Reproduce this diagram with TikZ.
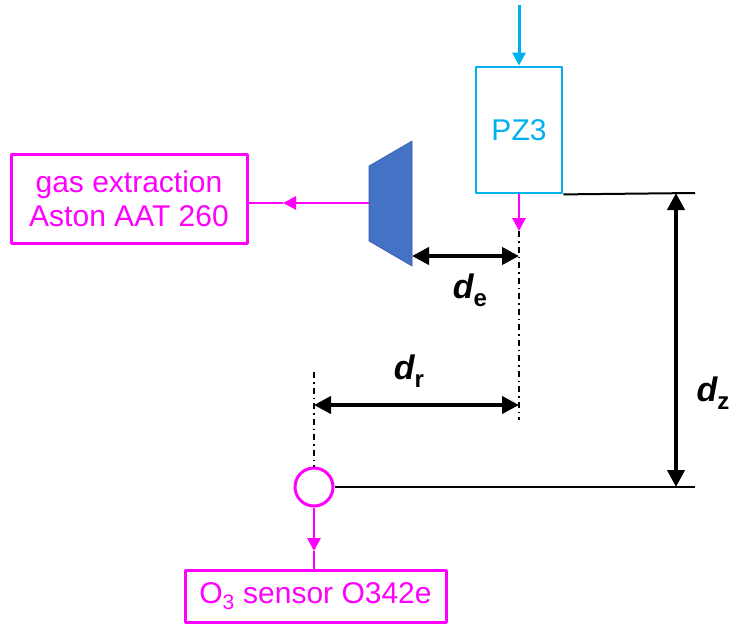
\documentclass[tikz,border=0pt]{standalone}
\usepackage{fontspec}
\setmainfont{Liberation Sans}
\usetikzlibrary{arrows.meta}

\newcommand{\dimsub}[1]{\raisebox{-8pt}{\fontsize{24}{24}\selectfont\upshape #1}}

\begin{document}
\begin{tikzpicture}[x=1pt,y=-1pt,line join=round,
  magbox/.style={draw=sensmag,line width=3pt,inner sep=0pt,text=sensmag,align=center,font=\fontsize{30}{34}\selectfont},
  magline/.style={draw=sensmag,line width=2.8pt},
  magtip/.style={-{Triangle[length=13pt,width=13pt]}},
  dimline/.style={line width=4pt,{Triangle[length=17pt,width=17pt]}-{Triangle[length=17pt,width=17pt]}},
  refline/.style={line width=2pt},
  axisline/.style={line width=1.7pt,dash pattern=on 6pt off 4pt on 1.5pt off 4pt},
  dimlabel/.style={font=\fontsize{34}{38}\selectfont\bfseries}]
\definecolor{sensmag}{HTML}{FF00FF}
\definecolor{pzcyan}{HTML}{00B0F0}
\definecolor{hoodblue}{HTML}{4472C4}
\useasboundingbox (0,0) rectangle (735,624);

% PZ3 and its feed
\node[draw=pzcyan,line width=2.8pt,minimum width=86pt,minimum height=126pt,inner sep=0pt,text=pzcyan,font=\fontsize{30}{34}\selectfont] (pz) at (519,130) {PZ3};
\coordinate (feed) at (519,5);
\draw[pzcyan,line width=3pt,-{Triangle[length=13pt,width=13pt]}] (feed) -- (pz.north);
\coordinate (outlet) at (519,231);
\draw[magline,magtip] (pz.south) -- (outlet);
\coordinate (axisE) at (519,420);
\draw[axisline] (outlet) -- (axisE);

% extraction hood
\filldraw[fill=hoodblue,draw=hoodblue!80!black,line width=.6pt] (369,166) -- (412,141) -- (412,266) -- (369,241) -- cycle;
\coordinate (hoodout) at (369,203);
\coordinate (hoodedge) at (412,256);
\node[magbox,minimum width=236pt,minimum height=89pt] (gas) at (129,198.5) {gas extraction\\Aston AAT 260};
\coordinate (gastip) at (283,203);
\draw[magline,magtip] (hoodout) -- (gastip);
\draw[magline] (gastip) -- (hoodout -| gas.east);

% d_e
\draw[dimline] (hoodedge) -- (hoodedge -| outlet);
\node[dimlabel] (de) at (470,290) {\itshape d\dimsub{e}};

% sensor
\node[circle,draw=sensmag,line width=3pt,minimum size=38pt,inner sep=0pt] (sens) at (314,487) {};
\coordinate (axisS) at (314,372);
\draw[axisline] (axisS) -- (sens.north);
\coordinate (drlevel) at (519,405);
\draw[dimline] (drlevel -| sens) -- (drlevel);
\node[dimlabel] (dr) at (409,371) {\itshape d\dimsub{r}};
\node[magbox,minimum width=261pt,minimum height=52pt] (o3) at (315.5,596) {O\textsubscript{3} sensor O342e};
\coordinate (o3tip) at (314,551);
\draw[magline,magtip] (sens.south) -- (o3tip);
\draw[magline] (o3tip) -- (o3tip |- o3.north);

% d_z
\coordinate (topref) at (695,193);
\coordinate (botref) at (695,487);
\draw[refline] (pz.south east) -- (topref);
\draw[refline] (sens.east) -- (botref);
\coordinate (dzx) at (676,0);
\draw[dimline] (dzx |- topref) -- (dzx |- botref);
\node[dimlabel] (dz) at (713,393) {\itshape d\dimsub{z}};
\end{tikzpicture}
\end{document}
